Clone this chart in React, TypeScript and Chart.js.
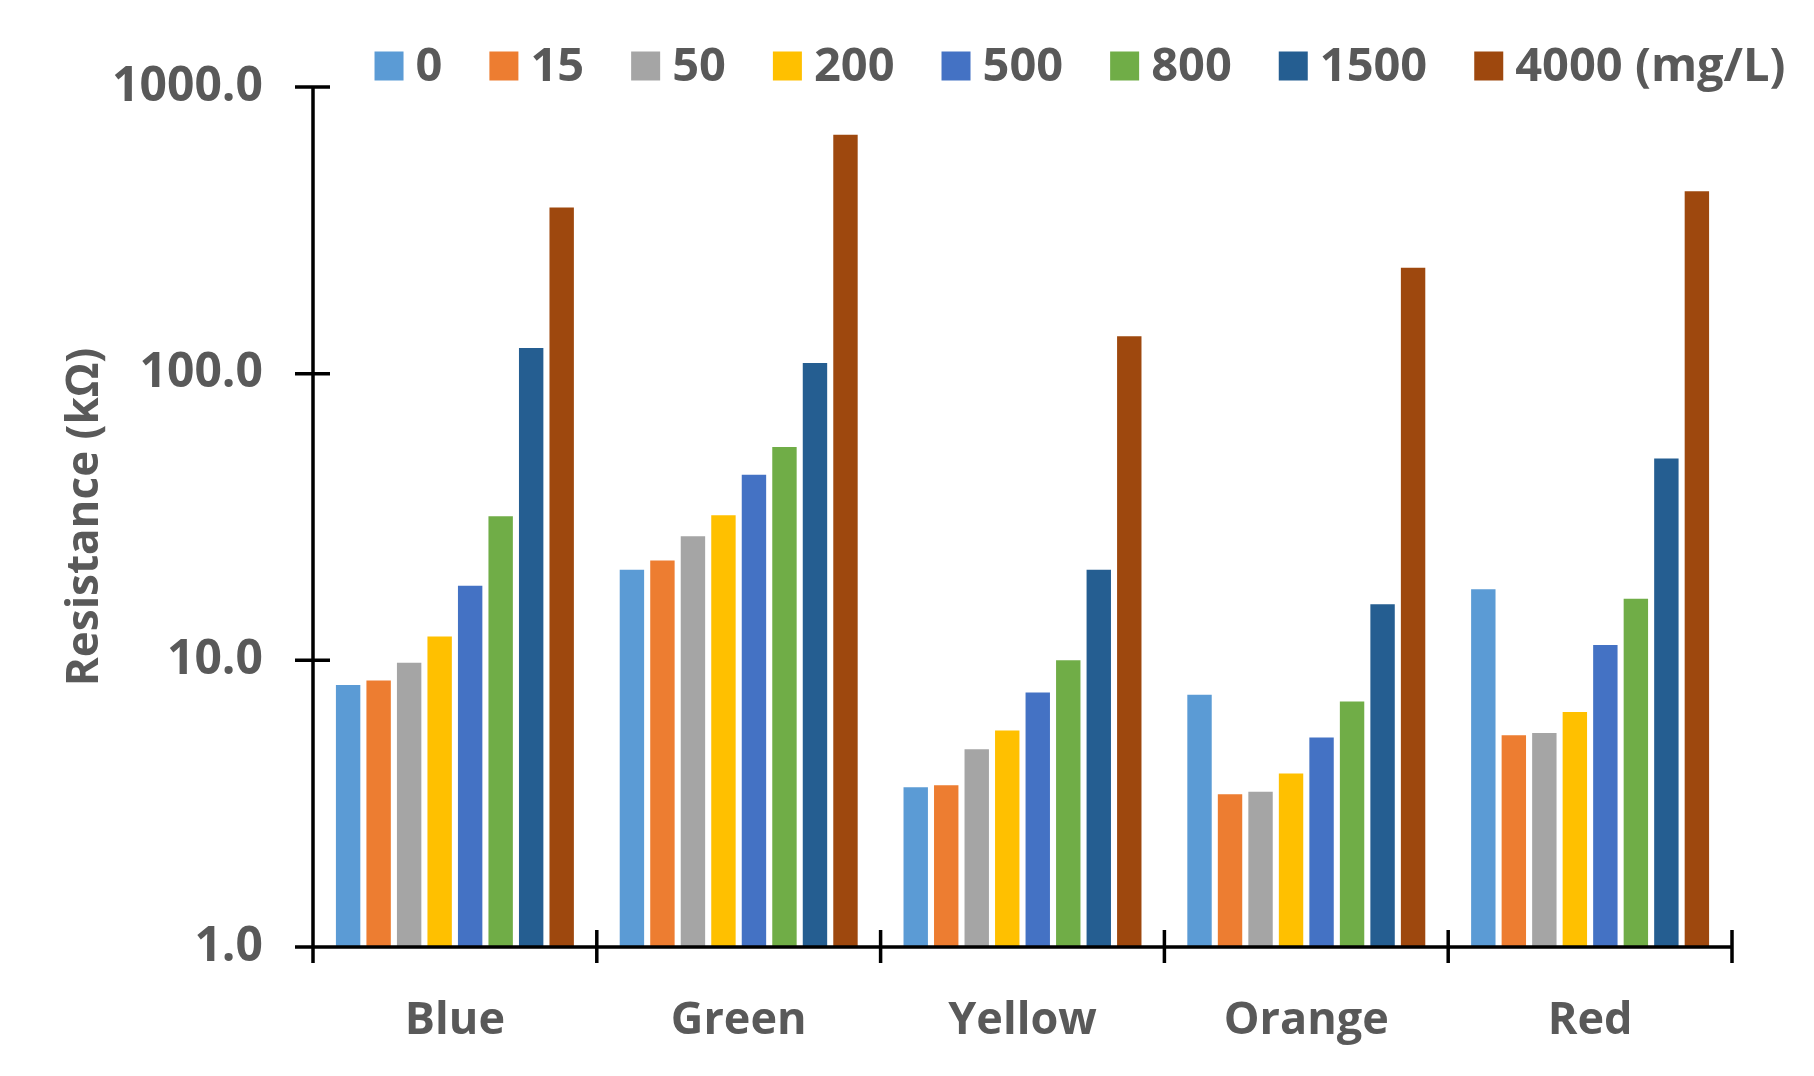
import React, { useEffect, useRef } from 'react';
import { Chart, registerables } from 'chart.js';

Chart.register(...registerables);

const categories = ['Blue', 'Green', 'Yellow', 'Orange', 'Red'];
const seriesLabels = ['0', '15', '50', '200', '500', '800', '1500', '4000 (mg/L)'];
const seriesColors = ['#5B9BD5', '#ED7D31', '#A5A5A5', '#FFC000', '#4472C4', '#70AD47', '#255E91', '#9E480E'];

const s0 = [8.2, 20.7, 3.61, 7.59, 17.7];
const s15 = [8.5, 22.3, 3.67, 3.41, 5.48];
const s50 = [9.8, 27.1, 4.9, 3.48, 5.58];
const s200 = [12.1, 32.1, 5.69, 4.03, 6.6];
const s500 = [18.2, 44.4, 7.73, 5.38, 11.3];
const s800 = [31.8, 55.5, 10.0, 7.18, 16.4];
const s1500 = [123, 109, 20.7, 15.7, 50.6];
const s4000 = [380, 682, 135, 234, 433];

const yTicks = [1, 10, 100, 1000];
const yTitle = 'Resistance (kΩ)';

const TEXT = '#595959';
const FONT = "'Open Sans', 'Noto Sans', sans-serif";

const axesPlugin = {
  id: 'customAxes',
  afterDatasetsDraw(chart: any) {
    const { ctx, chartArea, scales } = chart;
    const x = scales.x;
    const y = scales.y;
    const left = chartArea.left;
    const bottom = y.getPixelForValue(yTicks[0]);
    const top = y.getPixelForValue(yTicks[yTicks.length - 1]);
    ctx.save();
    ctx.strokeStyle = '#000000';
    ctx.lineWidth = 3.5;
    ctx.lineCap = 'butt';
    ctx.beginPath();
    // y axis
    ctx.moveTo(left, top);
    ctx.lineTo(left, bottom + 16);
    yTicks.forEach((v) => {
      const py = y.getPixelForValue(v);
      ctx.moveTo(left - 18, py);
      ctx.lineTo(left + 17, py);
    });
    // x axis
    ctx.moveTo(left, bottom);
    ctx.lineTo(chartArea.right, bottom);
    for (let i = 1; i <= categories.length; i++) {
      const px = x.getPixelForValue(i - 0.5);
      ctx.moveTo(px, bottom - 17);
      ctx.lineTo(px, bottom + 16);
    }
    ctx.stroke();
    ctx.restore();
  },
};

const legendPlugin = {
  id: 'customLegend',
  afterDraw(chart: any) {
    const { ctx } = chart;
    const datasets = chart.data.datasets;
    const box = 29;
    const gapText = 12;
    const gapItem = 47;
    const cy = 66;
    ctx.save();
    ctx.font = `bold 47px ${FONT}`;
    ctx.textBaseline = 'middle';
    ctx.textAlign = 'left';
    const widths = datasets.map((d: any) => ctx.measureText(d.label).width);
    let total = 0;
    widths.forEach((w: number, i: number) => {
      total += box + gapText + w + (i < widths.length - 1 ? gapItem : 0);
    });
    let xPos = 1080 - total / 2;
    datasets.forEach((d: any, i: number) => {
      ctx.fillStyle = d.backgroundColor;
      ctx.fillRect(xPos, cy - box / 2, box, box);
      xPos += box + gapText;
      ctx.fillStyle = TEXT;
      ctx.fillText(d.label, xPos, cy + 2);
      xPos += widths[i] + gapItem;
    });
    ctx.restore();
  },
};

export default function App() {
  const canvasRef = useRef<HTMLCanvasElement | null>(null);

  useEffect(() => {
    document.body.style.margin = '0';
    const canvas = canvasRef.current;
    if (!canvas) return;
    const seriesValues = [s0, s15, s50, s200, s500, s800, s1500, s4000];
    const chart = new Chart(canvas, {
      type: 'bar',
      data: {
        labels: categories,
        datasets: seriesValues.map((vals, i) => ({
          label: seriesLabels[i],
          data: vals,
          backgroundColor: seriesColors[i],
          borderWidth: 0,
          barPercentage: 0.8,
          categoryPercentage: 0.86,
        })),
      },
      options: {
        responsive: false,
        animation: false,
        devicePixelRatio: 1,
        layout: { padding: { left: 0, right: 82, top: 87, bottom: 0 } },
        plugins: {
          legend: { display: false },
          tooltip: { enabled: false },
          title: { display: false },
        },
        scales: {
          x: {
            type: 'category',
            offset: true,
            grid: { display: false, drawTicks: false, offset: true },
            border: { display: false },
            ticks: {
              color: TEXT,
              font: { family: FONT, size: 45, weight: 'bold' },
              padding: 47,
              maxRotation: 0,
              autoSkip: false,
            },
            afterFit: (s: any) => {
              s.height = 129;
            },
          },
          y: {
            type: 'logarithmic',
            min: 1,
            max: 1000,
            grid: { display: false, drawTicks: false },
            border: { display: false },
            afterBuildTicks: (s: any) => {
              s.ticks = yTicks.map((v) => ({ value: v }));
            },
            ticks: {
              color: TEXT,
              font: { family: FONT, size: 48, weight: 'bold' },
              padding: 50,
              callback: (v: any) => Number(v).toFixed(1),
            },
            title: {
              display: true,
              text: yTitle,
              color: TEXT,
              font: { family: FONT, size: 44, weight: 'bold' },
              padding: { top: 59, bottom: 0 },
            },
            afterFit: (s: any) => {
              s.width = 313;
            },
          },
        },
      },
      plugins: [axesPlugin, legendPlugin],
    });
    return () => chart.destroy();
  }, []);

  return (
    <div style={{ width: 1814, height: 1076, background: '#ffffff' }}>
      <canvas ref={canvasRef} width={1814} height={1076} style={{ display: 'block', width: 1814, height: 1076 }} />
    </div>
  );
}
